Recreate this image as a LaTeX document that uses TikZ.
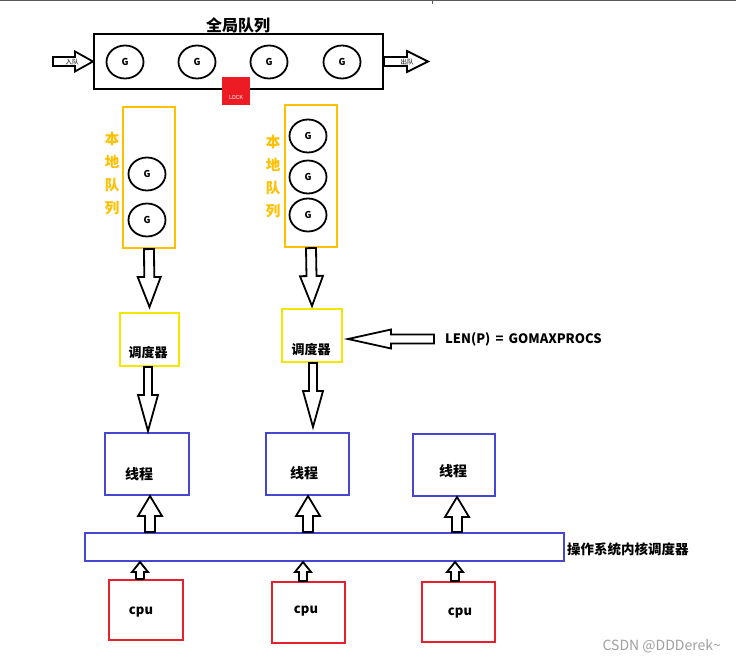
\documentclass[tikz,border=0pt]{standalone}
\usepackage{fontspec}
\setmainfont{Noto Sans CJK SC}
\usetikzlibrary{calc,shapes.geometric}
\definecolor{qgold}{HTML}{FFC000}
\definecolor{syel}{HTML}{F5E600}
\definecolor{tblue}{HTML}{4646D2}
\definecolor{cred}{HTML}{E8202E}
\definecolor{lockred}{HTML}{ED1C24}
\tikzset{
  rbox/.style={draw, inner sep=0pt, line width=2pt},
  gnode/.style={ellipse, draw=black, line width=1.8pt, minimum width=37pt, minimum height=33pt, inner sep=0pt, font=\bfseries\fontsize{9.5}{10}\selectfont},
  lbl/.style={font=\bfseries\fontsize{13}{14}\selectfont, inner sep=0pt},
  blk/.style={draw=black, line width=1.8pt, fill=white, line join=miter},
  blockarrow/.style n args={3}{blk,
    to path={
      let \p1=(\tikztostart), \p2=(\tikztotarget),
          \n1={atan2(\y2-\y1,\x2-\x1)},
          \n2={veclen(\x2-\x1,\y2-\y1)}
      in [shift={(\p1)}, rotate=\n1]
      (0pt,{#1pt}) -- ({\n2-#3pt},{#1pt}) -- ({\n2-#3pt},{#2pt}) -- ({\n2+0pt},0pt)
      -- ({\n2-#3pt},{-#2pt}) -- ({\n2-#3pt},{-#1pt}) -- (0pt,{-#1pt}) -- cycle
    }}
}
\begin{document}
\begin{tikzpicture}[x=1pt,y=-1pt]
\useasboundingbox (0,0) rectangle (736,660);
\fill[white] (0,0) rectangle (736,660);
% top border
\draw[gray!70!black, line width=1.5pt] (0,0.75) -- (736,0.75);
\draw[gray!70!black, line width=1pt] (432,0) -- (432,4);

% global queue
\node[lbl, font=\bfseries\fontsize{16}{17}\selectfont] (title) at (238,25) {全局队列};
\node[rbox, draw=black, minimum width=289pt, minimum height=55pt] (gq) at (238.5,61.5) {};
\node[gnode] (g1) at (125,62) {G};
\node[gnode] (g2) at (197,62) {G};
\node[gnode] (g3) at (269,62) {G};
\node[gnode] (g4) at (342,62) {G};
\node[fill=lockred, minimum width=28pt, minimum height=28pt, inner sep=0pt] (lock) at (236,91) {};
\node[text=white, font=\fontsize{5.5}{6}\selectfont, inner sep=0pt] (locktxt) at (236,97) {LOCK};

\coordinate (inS) at (53,61.5);
\coordinate (outT) at (428,61.5);
\draw[blockarrow={4.5}{10}{18}] (inS) to (gq.west);
\draw[blockarrow={4.5}{10.5}{21}] (gq.east) to (outT);
\node[font=\fontsize{6.5}{7}\selectfont, inner sep=0pt] (intxt) at (72,62) {入队};
\node[font=\fontsize{6.5}{7}\selectfont, inner sep=0pt] (outtxt) at (407,62) {出队};

% local queues
\node[rbox, draw=qgold, line width=2.2pt, minimum width=52pt, minimum height=141pt] (lq1) at (149,177.5) {};
\node[rbox, draw=qgold, line width=2.2pt, minimum width=52pt, minimum height=142pt] (lq2) at (311,176) {};
\node[text=qgold, font=\bfseries\fontsize{14.5}{23}\selectfont, align=center, inner sep=0pt] (lq1t) at (112,174) {本\\地\\队\\列};
\node[text=qgold, font=\bfseries\fontsize{14.5}{23}\selectfont, align=center, inner sep=0pt] (lq2t) at (273,177) {本\\地\\队\\列};
\node[gnode] (g5) at (147,174) {G};
\node[gnode] (g6) at (147,220) {G};
\node[gnode] (g7) at (308,136) {G};
\node[gnode] (g8) at (308,177) {G};
\node[gnode] (g9) at (308,215) {G};

% schedulers
\node[rbox, draw=syel, minimum width=59pt, minimum height=53pt] (s1) at (149.5,339.5) {};
\node[rbox, draw=syel, minimum width=60pt, minimum height=53pt] (s2) at (312,335.5) {};
\node[lbl] (s1t) at (148,353) {调度器};
\node[lbl] (s2t) at (311,350) {调度器};

\draw[blockarrow={5}{11.5}{30}] (lq1.south) to ($(s1.north)+(0,-5)$);
\draw[blockarrow={5}{11.5}{30}] (lq2.south) to ($(s2.north)+(0,-2)$);

\coordinate (lenS) at (434,339);
\draw[blockarrow={4.5}{9.5}{43}] (lenS) to ($(s2.east |- lenS)+(5,0)$);
\node[lbl, anchor=west, font=\bfseries\fontsize{13}{14}\selectfont] (lentxt) at (445,339.5) {LEN(P)\ \,=\ \,GOMAXPROCS};

% threads
\node[rbox, draw=tblue, minimum width=84pt, minimum height=62pt] (t1) at (147,464) {};
\node[rbox, draw=tblue, minimum width=83pt, minimum height=62pt] (t2) at (307.5,464) {};
\node[rbox, draw=tblue, minimum width=82pt, minimum height=62pt] (t3) at (454,465) {};
\node[lbl, font=\bfseries\fontsize{14}{15}\selectfont] (t1t) at (139,474) {线程};
\node[lbl, font=\bfseries\fontsize{14}{15}\selectfont] (t2t) at (304,473) {线程};
\node[lbl, font=\bfseries\fontsize{14}{15}\selectfont] (t3t) at (453,471) {线程};

\draw[blockarrow={4}{10}{36}] ($(s1.south)+(-1.5,0)$) to ($(s1.south |- t1.north)+(-1.5,-1)$);
\coordinate (x4) at (313,0);
\draw[blockarrow={4}{10}{36}] (s2.south -| x4) to ($(t2.north -| x4)+(0,-5)$);

% kernel scheduler
\node[rbox, draw=tblue, minimum width=479pt, minimum height=28pt] (k) at (324.5,547) {};
\node[lbl, anchor=west, font=\bfseries\fontsize{13.5}{14}\selectfont] (ktxt) at (567,549) {操作系统内核调度器};

\coordinate (x1) at (150,0);
\coordinate (x2) at (308,0);
\coordinate (x3) at (457,0);
\draw[blockarrow={5}{12}{20}] (k.north -| x1) to (t1.south -| x1);
\draw[blockarrow={5}{12}{20}] (k.north -| x2) to (t2.south -| x2);
\draw[blockarrow={5}{12}{20}] (k.north -| x3) to (t3.south -| x3);

% cpus
\node[rbox, draw=cred, minimum width=74pt, minimum height=60pt] (c1) at (146,610) {};
\node[rbox, draw=cred, minimum width=73pt, minimum height=61pt] (c2) at (308.5,612.5) {};
\node[rbox, draw=cred, minimum width=73pt, minimum height=60pt] (c3) at (458.5,612) {};
\node[lbl] (c1t) at (141,612) {cpu};
\node[lbl] (c2t) at (306,611) {cpu};
\node[lbl] (c3t) at (460,613) {cpu};

\coordinate (y1) at (140,0);
\coordinate (y2) at (303,0);
\coordinate (y3) at (455,0);
\draw[blockarrow={4}{8}{10}] (c1.north -| y1) to (k.south -| y1);
\draw[blockarrow={4}{8}{10}] (c2.north -| y2) to (k.south -| y2);
\draw[blockarrow={4}{8}{10}] (c3.north -| y3) to (k.south -| y3);

% watermark
\node[anchor=east, text=gray!75, font=\fontsize{14}{15}\selectfont, inner sep=0pt] (wm) at (721,646) {CSDN @DDDerek\textasciitilde};
\end{tikzpicture}
\end{document}
